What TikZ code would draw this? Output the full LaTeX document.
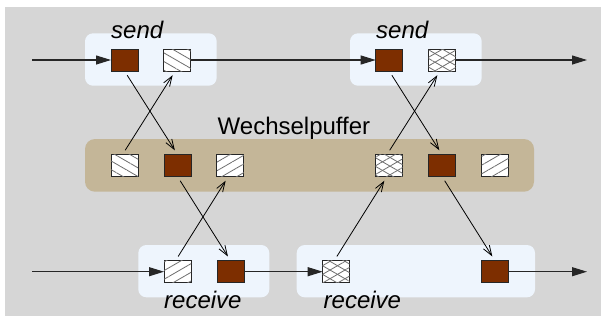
\documentclass[tikz,border=0pt]{standalone}
\usepackage{fontspec}
\setmainfont{Liberation Sans}
\usetikzlibrary{arrows.meta,patterns.meta}
\definecolor{bggray}{RGB}{214,214,214}
\definecolor{paleblue}{RGB}{238,245,253}
\definecolor{buftan}{RGB}{196,182,152}
\definecolor{rust}{RGB}{125,46,0}
\definecolor{hatchgray}{RGB}{110,110,110}

\begin{document}
\begin{tikzpicture}[x=1pt,y=-1pt,
  cell/.style={draw=black!85, line width=0.8pt, minimum width=27pt,
    minimum height=22pt, inner sep=0pt, outer sep=0pt},
  full/.style={cell, fill=rust},
  hatchdown/.style={cell, fill=white,
    postaction={pattern={Lines[angle=-30,distance=7.5pt,line width=0.8pt]},
      pattern color=hatchgray}},
  hatchup/.style={cell, fill=white,
    postaction={pattern={Lines[angle=30,distance=7.5pt,line width=0.8pt]},
      pattern color=hatchgray}},
  crossed/.style={cell, fill=white,
    postaction={pattern={Lines[angle=30,distance=7.5pt,line width=0.8pt]},
      pattern color=hatchgray},
    postaction={pattern={Lines[angle=-30,distance=7.5pt,line width=0.8pt]},
      pattern color=hatchgray}},
  panel/.style={fill=paleblue, rounded corners=8pt},
  lbl/.style={font=\fontsize{24}{28}\selectfont\itshape, inner sep=0pt,
    anchor=base west},
  flow/.style={draw=black!85, line width=1.1pt,
    -{Triangle[length=15pt,width=9pt]}},
  swap/.style={draw=black, line width=0.8pt,
    -{Straight Barb[length=10pt,width=7pt,line width=0.8pt]},
    shorten <=5pt, shorten >=5pt}
]
\useasboundingbox (0,0) rectangle (607,322);
\fill[bggray] (5,6.7) rectangle (601,316);

% panels
\path[panel] (85,33.3) rectangle (216.7,85.7);
\path[panel] (350,33.3) rectangle (481.7,85.7);
\path[panel] (138.3,245) rectangle (269.3,297.3);
\path[panel] (296.7,245) rectangle (535,297.3);
\fill[buftan, rounded corners=10pt] (85,139) rectangle (534,191.7);

% labels
\node[lbl] (send1) at (111,38.3) {send};
\node[lbl] (send2) at (376,38.3) {send};
\node[lbl] (recv1) at (164,308.3) {receive};
\node[lbl] (recv2) at (323.5,308.3) {receive};
\node[lbl, font=\fontsize{24}{28}\selectfont] (wp) at (217.5,134) {Wechselpuffer};

% send stage
\node[full] (s1) at (124.5,60) {};
\node[hatchdown] (s2) at (177.3,60) {};
\node[full] (s3) at (389.2,60) {};
\node[crossed] (s4) at (442,60) {};

% buffer
\node[hatchdown] (b1) at (124.5,165.5) {};
\node[full] (b2) at (177.5,165.5) {};
\node[hatchup] (b3) at (230.3,165.5) {};
\node[crossed] (b4) at (389,165.5) {};
\node[full] (b5) at (442,165.5) {};
\node[hatchup] (b6) at (495,165.5) {};

% receive stage
\node[hatchup] (r1) at (177.5,271.7) {};
\node[full] (r2) at (230.6,271.7) {};
\node[crossed] (r3) at (336.2,271.7) {};
\node[full] (r4) at (495,271.7) {};

% horizontal flows
\coordinate (inT) at (32,60);
\coordinate (outT) at (587,60);
\coordinate (inB) at (32,271.7);
\coordinate (outB) at (587,271.7);
\draw[flow] (inT) -- (s1.west);
\draw[flow] (s2.east) -- (s3.west);
\draw[flow] (s4.east) -- (outT);
\draw[flow] (inB) -- (r1.west);
\draw[flow] (r2.east) -- (r3.west);
\draw[flow] (r4.east) -- (outB);

% exchanges with the buffer
\draw[swap] (s1.south) -- (b2.north);
\draw[swap] ([xshift=-2pt]b1.north) -- ([xshift=-2pt]s2.south);
\draw[swap] (b2.south) -- (r2.north);
\draw[swap] ([xshift=-2pt]r1.north) -- ([xshift=-2pt]b3.south);
\draw[swap] (s3.south) -- (b5.north);
\draw[swap] ([xshift=-2pt]b4.north) -- ([xshift=-2pt]s4.south);
\draw[swap] ([xshift=-2pt]r3.north) -- ([xshift=-2pt]b4.south);
\draw[swap] (b5.south) -- (r4.north);
\end{tikzpicture}
\end{document}
